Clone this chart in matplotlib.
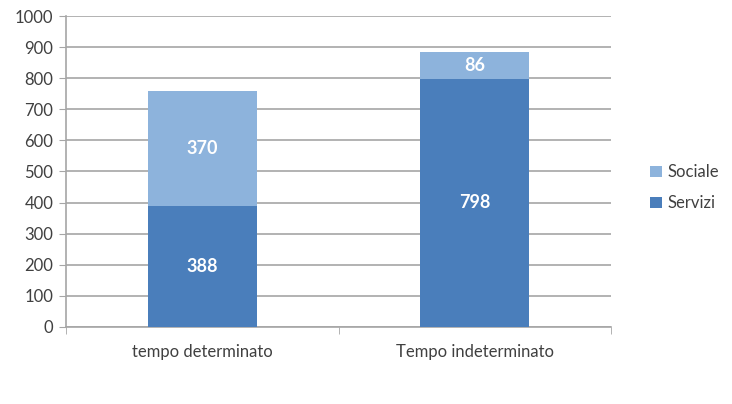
import numpy as np
import matplotlib
matplotlib.use("Agg")
import matplotlib.pyplot as plt

# data
categories = ["tempo determinato", "Tempo indeterminato"]
servizi = [388, 798]
sociale = [370, 86]
series_names = ["Servizi", "Sociale"]
y_ticks = list(range(0, 1001, 100))

COL_SERVIZI = "#4a7ebb"
COL_SOCIALE = "#8db3dc"
TEXT_COL = "#404040"
GRID_COL = "#a6a6a6"

plt.rcParams["font.family"] = ["Lato", "DejaVu Sans"]

fig = plt.figure(figsize=(7.32, 4.04), dpi=100)
ax = fig.add_axes([0.090, 0.191, 0.745, 0.769])

x = np.arange(len(categories))
b1 = ax.bar(x, servizi, width=0.4, color=COL_SERVIZI, label=series_names[0], zorder=3)
b2 = ax.bar(x, sociale, width=0.4, bottom=servizi, color=COL_SOCIALE,
            label=series_names[1], zorder=3)

# value labels in the middle of each segment
for bars, vals, bottoms in ((b1, servizi, [0, 0]), (b2, sociale, servizi)):
    for rect, v, b in zip(bars, vals, bottoms):
        ax.text(rect.get_x() + rect.get_width() / 2, b + v / 2, str(v),
                ha="center", va="center", color="white", fontsize=13,
                fontweight="bold", zorder=4)

ax.set_xlim(-0.5, 1.5)
ax.set_ylim(0, 1000)
ax.set_yticks(y_ticks)
ax.set_xticks(x)
ax.set_xticklabels(categories)
ax.set_xticks([-0.5, 0.5, 1.5], minor=True)

ax.yaxis.grid(True, color=GRID_COL, linewidth=1.2, zorder=0)
ax.xaxis.grid(False)
for side in ("top", "right"):
    ax.spines[side].set_visible(False)
ax.spines["left"].set_color(GRID_COL)
ax.spines["bottom"].set_color(GRID_COL)
ax.spines["left"].set_linewidth(1.2)
ax.spines["bottom"].set_linewidth(1.2)

ax.tick_params(axis="y", length=5, color=GRID_COL, labelsize=12,
               labelcolor=TEXT_COL, pad=4)
ax.tick_params(axis="x", which="major", length=0, labelsize=12,
               labelcolor=TEXT_COL, pad=12)
ax.tick_params(axis="x", which="minor", length=5, color=GRID_COL)

handles, labels = ax.get_legend_handles_labels()
leg = fig.legend(handles[::-1], labels[::-1], loc="center left",
                 bbox_to_anchor=(0.868, 0.535), frameon=False, fontsize=12,
                 handlelength=0.7, handleheight=0.7, handletextpad=0.3,
                 labelspacing=0.9, labelcolor=TEXT_COL)

fig.savefig("out.png", dpi=100)
